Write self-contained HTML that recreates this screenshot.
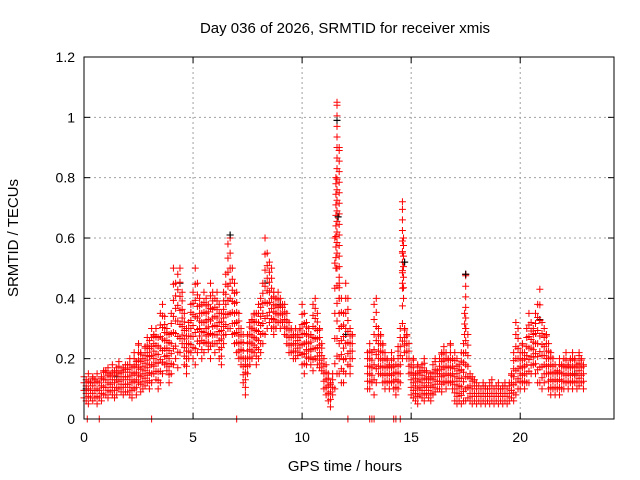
<!DOCTYPE html>
<html><head><meta charset="utf-8"><style>
body{margin:0;background:#fff;}
svg{display:block;font-family:"Liberation Sans",sans-serif;}
</style></head><body>
<svg id="chart" width="640" height="480">
<text x="345" y="33" text-anchor="middle" font-size="15">Day 036 of 2026, SRMTID for receiver xmis</text>
<text x="345" y="471" text-anchor="middle" font-size="15">GPS time / hours</text>
<text transform="translate(18,238) rotate(-90)" text-anchor="middle" font-size="15">SRMTID / TECUs</text>
<g id="grid"></g><g id="marks"></g><g id="axes"></g>
</svg>
<script>
const xTicks=[0,5,10,15,20];
const yTicks=[0,0.2,0.4,0.6,0.8,1,1.2];
const yTickLabels=["0","0.2","0.4","0.6","0.8","1","1.2"];
const startHour=0, stepHour=0.1;
const redLo=[.07,.06,.05,.07,.06,.07,.05,.07,.06,.08,
.08,.07,.09,.08,.07,.08,.10,.09,.08,.09,
.09,.08,.07,.10,.08,.12,.09,.10,.11,.12,
.10,.12,.15,.13,.10,.12,.15,.18,.16,.12,
.15,.18,.20,.17,.22,.25,.18,.15,.20,.22,
.20,.18,.22,.25,.20,.22,.25,.23,.20,.25,
.22,.25,.20,.18,.25,.28,.30,.30,.28,.25,
.22,.20,.18,.12,.08,.15,.18,.20,.22,.18,
.20,.22,.25,.28,.30,.32,.30,.28,.30,.32,
.30,.32,.28,.25,.22,.22,.20,.20,.21,.22,
.18,.15,.18,.20,.18,.16,.20,.18,.17,.16,
.10,.08,.06,.04,.08,.10,.15,.15,.12,.12,
.15,.18,.15,.20,null,null,null,null,null,null,
.10,.10,.12,.08,.12,.15,.15,.12,.10,.12,
.10,.12,.10,.08,.10,.12,.20,.22,.20,.15,
.08,.07,.06,.05,.08,.07,.06,.08,.07,.06,
.08,.09,.10,.10,.09,.12,.10,.12,.12,.10,
.06,.05,.06,.05,.06,.06,.07,.06,.05,.06,
.05,.06,.05,.06,.05,.06,.05,.06,.05,.06,
.05,.06,.05,.06,.05,.06,.07,.06,.08,.10,
.10,.12,.10,.12,.12,.15,.18,.15,.12,.12,
.10,.12,.15,.10,.08,.10,.08,.10,.08,.10,
.10,.12,.10,.12,.10,.12,.10,.11,.12,.10];
const redHi=[.14,.13,.15,.12,.14,.13,.15,.12,.14,.16,
.16,.17,.15,.18,.16,.17,.19,.16,.17,.18,
.18,.20,.17,.22,.19,.25,.22,.20,.24,.27,
.26,.30,.28,.30,.27,.35,.38,.34,.30,.28,
.35,.50,.45,.48,.50,.42,.35,.30,.32,.38,
.42,.50,.45,.40,.38,.42,.40,.38,.45,.42,
.40,.42,.38,.35,.42,.48,.58,.60,.50,.45,
.42,.35,.30,.28,.20,.28,.32,.33,.35,.35,
.38,.40,.45,.60,.55,.52,.50,.42,.40,.42,
.40,.38,.38,.35,.32,.30,.28,.30,.28,.30,
.38,.35,.32,.30,.28,.38,.40,.35,.30,.25,
.20,.18,.15,.12,.15,.60,.50,.45,.40,.35,
.45,.40,.30,.28,null,null,null,null,null,null,
.22,.25,.22,.38,.40,.30,.28,.25,.22,.20,
.18,.22,.20,.18,.24,.30,.55,.30,.28,.25,
.18,.20,.15,.18,.16,.18,.20,.16,.14,.15,
.18,.20,.16,.20,.22,.24,.22,.20,.25,.20,
.22,.20,.18,.22,.25,.30,.28,.15,.14,.13,
.12,.11,.10,.12,.11,.10,.12,.13,.10,.11,
.12,.10,.11,.12,.10,.12,.15,.22,.32,.30,
.22,.25,.22,.30,.35,.32,.30,.35,.38,.43,
.32,.30,.28,.25,.22,.20,.18,.16,.20,.18,
.20,.22,.18,.20,.22,.20,.18,.22,.20,.18];
const spikeT=[11.55,11.6,11.7,14.6,14.65,17.45,17.5];
const spikeLo=[0.50,0.55,0.40,0.45,0.40,0.28,0.30];
const spikeHi=[0.80,1.05,0.90,0.72,0.60,0.35,0.48];
const zeroT=[0.15,0.7,3.1,7.0,12.1,13.1,13.2,13.3,14.2,14.3,14.5];
const blackT=[0.1,0.3,1.5,4.4,6.7,8.3,9.0,11.6,11.65,12.0,14.7,17.5,20.9,22.5];
const blackV=[0.10,0.12,0.14,0.45,0.61,0.45,0.38,0.99,0.67,0.28,0.52,0.48,0.33,0.15];
const X0=84,X1=614,Y0=419,Y1=57,XMAX=24.3,YMAX=1.2;
const sx=v=>X0+v/XMAX*(X1-X0), sy=v=>Y0-v/YMAX*(Y0-Y1);
const NS="http://www.w3.org/2000/svg";
function mk(tag,attrs,parent){const e=document.createElementNS(NS,tag);for(const k in attrs)e.setAttribute(k,attrs[k]);parent.appendChild(e);return e;}
const grid=document.getElementById('grid'),marks=document.getElementById('marks'),axes=document.getElementById('axes');
yTicks.forEach((v,i)=>{
 if(v>0&&v<YMAX){const g=mk('line',{x1:X0,x2:X1,y1:sy(v),y2:sy(v),stroke:'#a0a0a0','stroke-dasharray':'2,3'},grid);
 
 }
 mk('line',{x1:X0,x2:X0+6,y1:sy(v),y2:sy(v),stroke:'#000'},axes);
 mk('line',{x1:X1,x2:X1-6,y1:sy(v),y2:sy(v),stroke:'#000'},axes);
 const t=mk('text',{x:X0-9,y:sy(v)+5,'text-anchor':'end','font-size':'14'},axes);t.textContent=yTickLabels[i];
 
 
});
xTicks.forEach(v=>{
 if(v>0){const g=mk('line',{x1:sx(v),x2:sx(v),y1:Y0,y2:Y1,stroke:'#a0a0a0','stroke-dasharray':'2,3'},grid);
 
 }
 mk('line',{x1:sx(v),x2:sx(v),y1:Y0,y2:Y0-6,stroke:'#000'},axes);
 mk('line',{x1:sx(v),x2:sx(v),y1:Y1,y2:Y1+6,stroke:'#000'},axes);
 const t=mk('text',{x:sx(v),y:Y0+23,'text-anchor':'middle','font-size':'14'},axes);t.textContent=String(v);
 
 
});
const box=mk('rect',{x:X0,y:Y1,width:X1-X0,height:Y0-Y1,fill:'none',stroke:'#000'},axes);


function cross(x,y,c,name){
 const p=mk('path',{d:`M${x-3.5},${y}h7M${x},${y-3.5}v7`,stroke:c,'stroke-width':1,fill:'none'},marks);
 
 
}
function column(t,lo,hi,c,step){
 const x=sx(t);
 for(let v=lo;v<hi-1e-9;v+=step) cross(x,sy(v),c,'red-point');
 cross(x,sy(hi),c,'red-point');
}
blackT.forEach((t,i)=>cross(sx(t),sy(blackV[i]),'#000','black-point'));
redLo.forEach((lo,i)=>{
 const hi=redHi[i]; if(lo===null||hi===null) return;
 const t=startHour+i*stepHour;
 column(t,lo,hi,'#f00',Math.max(0.025,(hi-lo)/6));
});
spikeT.forEach((t,i)=>column(t,spikeLo[i],spikeHi[i],'#f00',0.035));
zeroT.forEach(t=>cross(sx(t),sy(0),'#f00','red-zero-point'));
[[11.6,0.99],[11.65,0.67],[6.7,0.61],[14.7,0.52],[17.5,0.48]].forEach(p=>cross(sx(p[0]),sy(p[1]),'#000','black-point'));
</script>
</body></html>
